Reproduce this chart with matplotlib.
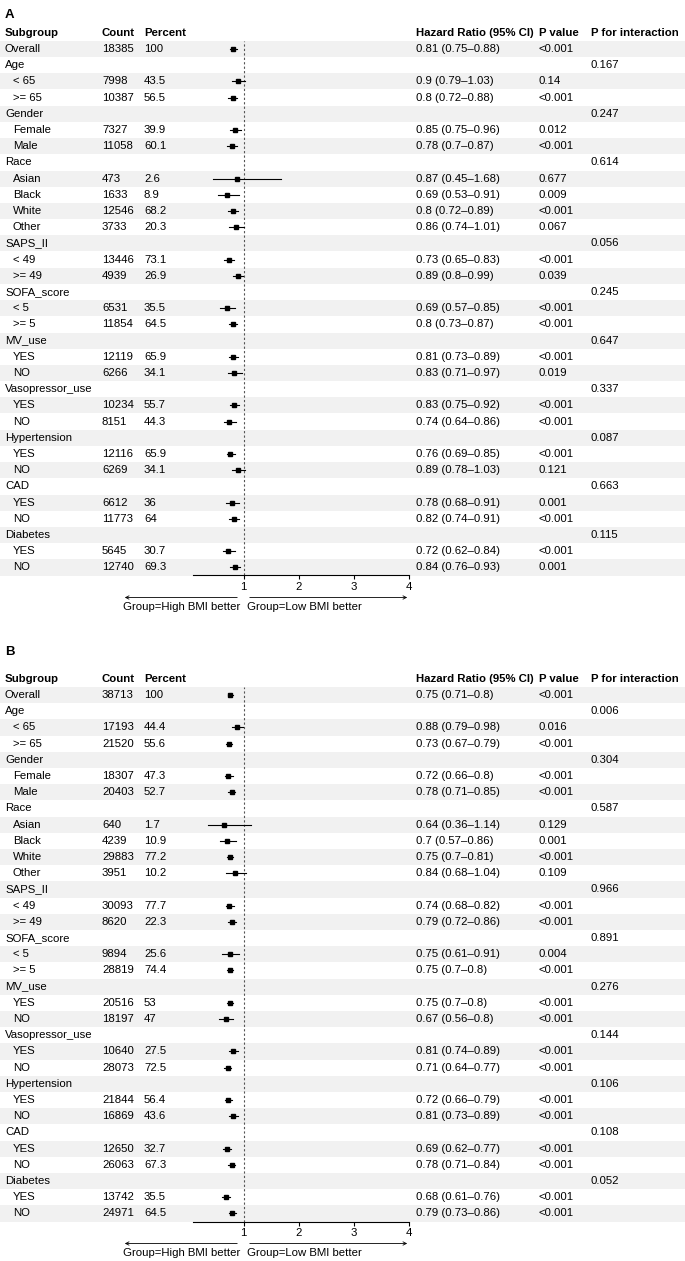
import matplotlib
matplotlib.use("Agg")
import matplotlib.pyplot as plt
from matplotlib.patches import Rectangle

plt.rcParams['font.family'] = ['Liberation Sans', 'DejaVu Sans']

# ---- data ----
labels = ["Overall", "Age", "< 65", ">= 65", "Gender", "Female", "Male",
          "Race", "Asian", "Black", "White", "Other",
          "SAPS_II", "< 49", ">= 49", "SOFA_score", "< 5", ">= 5",
          "MV_use", "YES", "NO", "Vasopressor_use", "YES", "NO",
          "Hypertension", "YES", "NO", "CAD", "YES", "NO",
          "Diabetes", "YES", "NO"]

# panel A
count_a = [18385, None, 7998, 10387, None, 7327, 11058, None, 473, 1633, 12546, 3733,
           None, 13446, 4939, None, 6531, 11854, None, 12119, 6266, None, 10234, 8151,
           None, 12116, 6269, None, 6612, 11773, None, 5645, 12740]
pct_a = [100, None, 43.5, 56.5, None, 39.9, 60.1, None, 2.6, 8.9, 68.2, 20.3,
         None, 73.1, 26.9, None, 35.5, 64.5, None, 65.9, 34.1, None, 55.7, 44.3,
         None, 65.9, 34.1, None, 36, 64, None, 30.7, 69.3]
hr_a = [0.81, None, 0.9, 0.8, None, 0.85, 0.78, None, 0.87, 0.69, 0.8, 0.86,
        None, 0.73, 0.89, None, 0.69, 0.8, None, 0.81, 0.83, None, 0.83, 0.74,
        None, 0.76, 0.89, None, 0.78, 0.82, None, 0.72, 0.84]
lo_a = [0.75, None, 0.79, 0.72, None, 0.75, 0.7, None, 0.45, 0.53, 0.72, 0.74,
        None, 0.65, 0.8, None, 0.57, 0.73, None, 0.73, 0.71, None, 0.75, 0.64,
        None, 0.69, 0.78, None, 0.68, 0.74, None, 0.62, 0.76]
hi_a = [0.88, None, 1.03, 0.88, None, 0.96, 0.87, None, 1.68, 0.91, 0.89, 1.01,
        None, 0.83, 0.99, None, 0.85, 0.87, None, 0.89, 0.97, None, 0.92, 0.86,
        None, 0.85, 1.03, None, 0.91, 0.91, None, 0.84, 0.93]
p_a = ["<0.001", "", "0.14", "<0.001", "", "0.012", "<0.001", "", "0.677", "0.009", "<0.001", "0.067",
       "", "<0.001", "0.039", "", "<0.001", "<0.001", "", "<0.001", "0.019", "", "<0.001", "<0.001",
       "", "<0.001", "0.121", "", "0.001", "<0.001", "", "<0.001", "0.001"]
pint_a = ["", "0.167", "", "", "0.247", "", "", "0.614", "", "", "", "",
          "0.056", "", "", "0.245", "", "", "0.647", "", "", "0.337", "", "",
          "0.087", "", "", "0.663", "", "", "0.115", "", ""]

# panel B
count_b = [38713, None, 17193, 21520, None, 18307, 20403, None, 640, 4239, 29883, 3951,
           None, 30093, 8620, None, 9894, 28819, None, 20516, 18197, None, 10640, 28073,
           None, 21844, 16869, None, 12650, 26063, None, 13742, 24971]
pct_b = [100, None, 44.4, 55.6, None, 47.3, 52.7, None, 1.7, 10.9, 77.2, 10.2,
         None, 77.7, 22.3, None, 25.6, 74.4, None, 53, 47, None, 27.5, 72.5,
         None, 56.4, 43.6, None, 32.7, 67.3, None, 35.5, 64.5]
hr_b = [0.75, None, 0.88, 0.73, None, 0.72, 0.78, None, 0.64, 0.7, 0.75, 0.84,
        None, 0.74, 0.79, None, 0.75, 0.75, None, 0.75, 0.67, None, 0.81, 0.71,
        None, 0.72, 0.81, None, 0.69, 0.78, None, 0.68, 0.79]
lo_b = [0.71, None, 0.79, 0.67, None, 0.66, 0.71, None, 0.36, 0.57, 0.7, 0.68,
        None, 0.68, 0.72, None, 0.61, 0.7, None, 0.7, 0.56, None, 0.74, 0.64,
        None, 0.66, 0.73, None, 0.62, 0.71, None, 0.61, 0.73]
hi_b = [0.8, None, 0.98, 0.79, None, 0.8, 0.85, None, 1.14, 0.86, 0.81, 1.04,
        None, 0.82, 0.86, None, 0.91, 0.8, None, 0.8, 0.8, None, 0.89, 0.77,
        None, 0.79, 0.89, None, 0.77, 0.84, None, 0.76, 0.86]
p_b = ["<0.001", "", "0.016", "<0.001", "", "<0.001", "<0.001", "", "0.129", "0.001", "<0.001", "0.109",
       "", "<0.001", "<0.001", "", "0.004", "<0.001", "", "<0.001", "<0.001", "", "<0.001", "<0.001",
       "", "<0.001", "<0.001", "", "<0.001", "<0.001", "", "<0.001", "<0.001"]
pint_b = ["", "0.006", "", "", "0.304", "", "", "0.587", "", "", "", "",
          "0.966", "", "", "0.891", "", "", "0.276", "", "", "0.144", "", "",
          "0.106", "", "", "0.108", "", "", "0.052", "", ""]

headers = ["Subgroup", "Count", "Percent", "Hazard Ratio (95% CI)", "P value", "P for interaction"]
ticks = [1, 2, 3, 4]

# ---- layout (pixels) ----
W, H = 685, 1261
pitch = 16.2
fs = 8.2
col_x = [5, 102, 144, 416, 539, 591]
fx0, fx1 = 193, 409          # forest column
band = "#f1f1f1"

fig = plt.figure(figsize=(W / 100, H / 100), dpi=100)
base = fig.add_axes([0, 0, 1, 1])
base.set_xlim(0, W)
base.set_ylim(H, 0)
base.axis("off")


def fmt(v):
    return f"{v:g}"


def panel(tag, tag_y, top, count, pct, hr, lo, hi, p, pint):
    n = len(labels)
    base.text(5, tag_y, tag, fontsize=9.5, fontweight="bold", va="center")
    hy = top - pitch / 2
    for x, h in zip(col_x, headers):
        base.text(x, hy, h, fontsize=fs, fontweight="bold", va="center")
    for i in range(n):
        y = top + (i + 0.5) * pitch
        if i % 2 == 0:
            base.add_patch(Rectangle((0, top + i * pitch), W, pitch, color=band, lw=0, zorder=0))
        grp = hr[i] is None
        lx = 5 if (grp or labels[i] == "Overall") else 13
        base.text(lx, y, labels[i], fontsize=fs, va="center")
        if not grp:
            base.text(col_x[1], y, str(count[i]), fontsize=fs, va="center")
            base.text(col_x[2], y, fmt(pct[i]), fontsize=fs, va="center")
            base.text(col_x[3], y, f"{fmt(hr[i])} ({fmt(lo[i])}\u2013{fmt(hi[i])})", fontsize=fs, va="center")
        base.text(col_x[4], y, p[i], fontsize=fs, va="center")
        base.text(col_x[5], y, pint[i], fontsize=fs, va="center")

    # forest column
    bottom = top + n * pitch
    fa = fig.add_axes([fx0 / W, 1 - bottom / H, (fx1 - fx0) / W, n * pitch / H])
    fa.patch.set_alpha(0)
    fa.set_xlim(0.08, 4)
    fa.set_ylim(n - 0.5, -0.5)
    for s in ["top", "right", "left"]:
        fa.spines[s].set_visible(False)
    fa.spines["bottom"].set_linewidth(0.8)
    fa.set_yticks([])
    fa.set_xticks(ticks)
    fa.set_xticklabels([str(t) for t in ticks], fontsize=fs)
    fa.tick_params(axis="x", length=3, width=0.8, pad=2)
    fa.axvline(1, color="#555555", lw=0.8, ls=(0, (2, 2)), zorder=1)
    for i in range(n):
        if hr[i] is None:
            continue
        fa.plot([lo[i], hi[i]], [i, i], color="black", lw=0.8, zorder=2)
        fa.plot(hr[i], i, marker="s", ms=3, color="black", zorder=3)

    # direction arrows
    ay = bottom + 22
    base.annotate("", xy=(122, ay), xytext=(240, ay),
                  arrowprops=dict(arrowstyle="->", lw=0.6, mutation_scale=6, color="black"))
    base.annotate("", xy=(410, ay), xytext=(247, ay),
                  arrowprops=dict(arrowstyle="->", lw=0.6, mutation_scale=6, color="black"))
    base.text(123, ay + 10, "Group=High BMI better", fontsize=fs, va="center")
    base.text(247, ay + 10, "Group=Low BMI better", fontsize=fs, va="center")


panel("A", 15, 40.9, count_a, pct_a, hr_a, lo_a, hi_a, p_a, pint_a)
panel("B", 652, 686.9, count_b, pct_b, hr_b, lo_b, hi_b, p_b, pint_b)

fig.savefig("out.png", dpi=100)
